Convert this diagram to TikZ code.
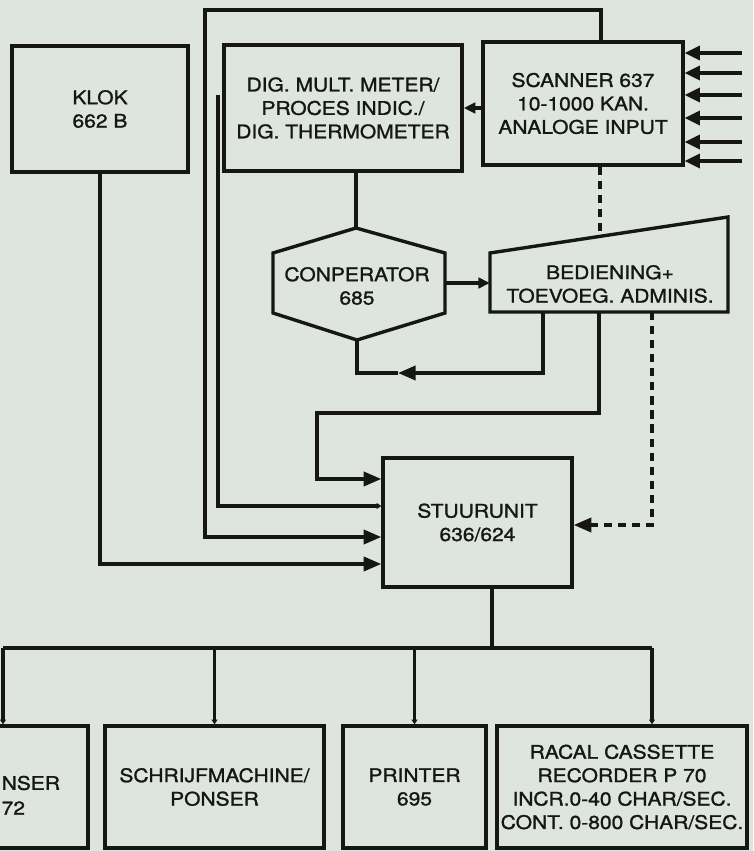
\documentclass[tikz,border=0pt]{standalone}
\usepackage{fontspec}
\setmainfont{TeX Gyre Heros}[FakeStretch=1.12,FakeBold=1.3]
\usetikzlibrary{arrows.meta}
\newdimen\pxu \pxu=0.03cm
\definecolor{bg}{RGB}{221,229,222}
\definecolor{ink}{RGB}{22,22,22}
\begin{document}
\begin{tikzpicture}[x=0.03cm,y=-0.03cm, line width=2.9pt, draw=ink,
  bx/.style 2 args={draw=ink, minimum width=#1\pxu, minimum height=#2\pxu, inner sep=0pt, align=center, text=ink, font=\fontsize{16}{20}\selectfont},
  lbl/.style={align=center, inner sep=0pt, text=ink, font=\fontsize{16}{20}\selectfont},
  arr/.style={-{Triangle[length=15pt,width=12pt]}},
  arrs/.style={-{Triangle[length=10pt,width=9pt]}},
  arrb/.style={-{Triangle[length=13pt,width=12pt]}},
  arrt/.style={-{Triangle[length=4pt,width=5pt]}},
  dsh/.style={dash pattern=on 7pt off 5pt}]
\fill[bg] (0,0) rectangle (753,851);
\useasboundingbox (0,0) rectangle (753,851);

% top boxes
\node[bx={176}{126}] (klok) at (100,109) {KLOK\\662 B};
\node[bx={238}{126}] (dig) at (343,108) {DIG. MULT. METER/\\PROCES INDIC./\\DIG. THERMOMETER};
\node[bx={200}{123}] (scan) at (583,103.5) {SCANNER 637\\10-1000 KAN.\\ANALOGE INPUT};

% hexagon
\coordinate (hT) at (356,228);
\coordinate (hUR) at (445,253);
\coordinate (hLR) at (445,313);
\coordinate (hB) at (357,340);
\coordinate (hLL) at (273,313);
\coordinate (hUL) at (273,253);
\coordinate (hR) at (445,283);
\draw[line join=miter] (hT) -- (hUR) -- (hLR) -- (hB) -- (hLL) -- (hUL) -- cycle;
\node[lbl] (conp) at (357,286) {CONPERATOR\\685};

% trapezoid
\coordinate (bUL) at (490,253);
\coordinate (bUR) at (728,217);
\coordinate (bLR) at (728,312);
\coordinate (bLL) at (490,312);
\coordinate (bL) at (490,283);
\draw (bUL) -- (bUR) -- (bLR) -- (bLL) -- cycle;
\node[lbl] (bed) at (610,284) {BEDIENING+\\TOEVOEG. ADMINIS.};

% central unit
\node[bx={189}{129}] (stuur) at (477.5,522.5) {STUURUNIT\\636/624};

% bottom boxes
\node[bx={108}{122}] (b1) at (34,787) {};
\node[lbl, anchor=west] (b1a) at (0,783) {NSER};
\node[lbl, anchor=west] (b1b) at (0,808) {72};
\node[bx={219}{122}] (b2) at (214.5,787) {SCHRIJFMACHINE/\\PONSER};
\node[bx={143}{122}] (b3) at (414.5,787) {PRINTER\\695};
\node[bx={250}{122}] (b4) at (622,787) {RACAL CASSETTE\\RECORDER P 70\\INCR.0-40 CHAR/SEC.\\CONT. 0-800 CHAR/SEC.};

% top loop from scanner to stuurunit
\coordinate (topR) at (601,10);
\coordinate (topL) at (205,10);
\coordinate (k1) at (0,537);
\draw[arr] (scan.north -| topR) -- (topR) -- (topL) -- (topL |- k1) -- (stuur.west |- k1);

% inner line from dig meter
\coordinate (digin) at (218,95);
\coordinate (k2) at (218,506);
\draw[arrt] (digin) -- (k2) -- (stuur.west |- k2);

% klok
\coordinate (k3) at (0,564);
\draw[arr] (klok.south) |- (stuur.west |- k3);

% bediening to stuurunit
\coordinate (bo) at (599,312);
\coordinate (c1) at (599,413);
\coordinate (c2) at (317,413);
\coordinate (c3) at (317,479);
\draw[arr] (bo) -- (c1) -- (c2) -- (c3) -- (stuur.west |- c3);

% dashed bediening to stuurunit
\coordinate (bd) at (652,312);
\coordinate (d1) at (652,525);
\draw[arr, dsh] (bd) -- (d1) -- (stuur.east |- d1);

% scanner to dig
\coordinate (sd) at (0,108);
\draw[arrs] (scan.west |- sd) -- (dig.east |- sd);

% inputs
\foreach \yy [count=\i] in {53,73,95,118,142,161}{
  \coordinate (in\i) at (742,\yy);
  \draw[arrb] (in\i) -- (scan.east |- in\i);
}

% dig to hexagon
\draw (dig.south -| hT) -- (hT);
% hexagon to bediening
\draw[arrs] (hR) -- (bL);
% scanner dashed to bediening
\coordinate (sb) at (600,236);
\draw[dsh] (scan.south -| sb) -- (sb);
% feedback
\coordinate (f0) at (543,312);
\coordinate (f1) at (543,373);
\coordinate (f2) at (398,373);
\coordinate (f3) at (357,373);
\draw[arr] (f0) -- (f1) -- (f2);
\draw (f2) -- (f3) -- (hB);

% bus
\coordinate (busx) at (492,648);
\coordinate (bus1) at (3,648);
\coordinate (bus4) at (652,648);
\draw (stuur.south -| busx) -- (busx);
\draw (bus1) -- (bus4);
\draw[arrt] (bus1) -- (bus1 |- b1.north);
\draw[arrt] (b2.north |- busx) -- (b2.north);
\draw[arrt] (b3.north |- busx) -- (b3.north);
\draw[arrt] (bus4) -- (bus4 |- b4.north);
\end{tikzpicture}
\end{document}
